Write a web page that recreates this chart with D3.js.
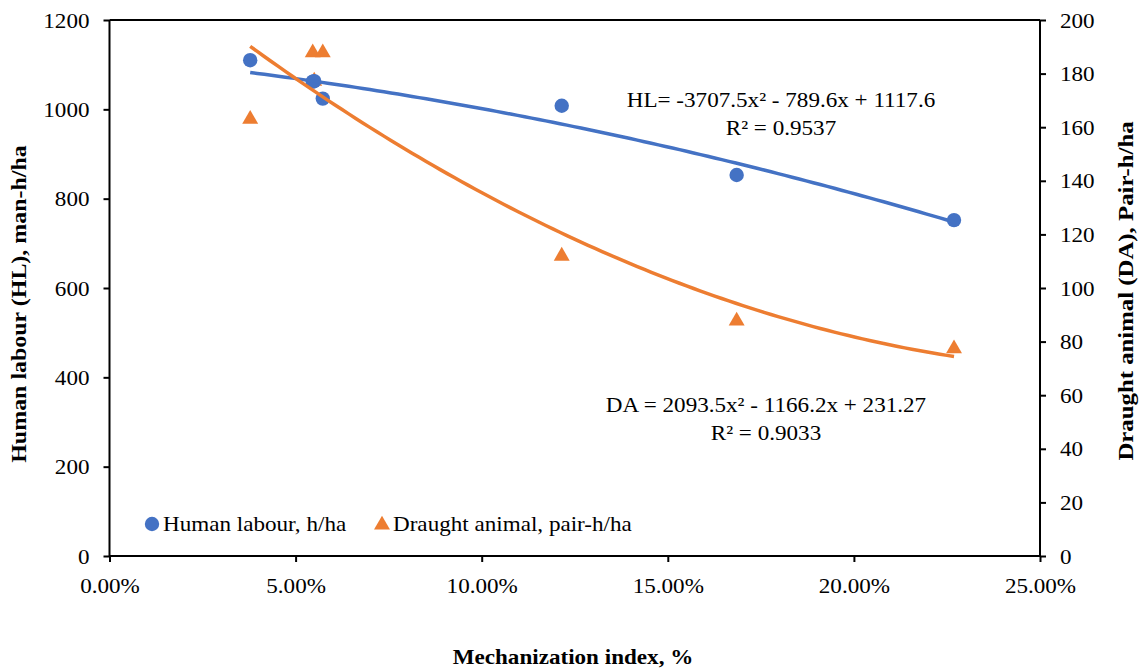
<!DOCTYPE html>
<html>
<head>
<meta charset="utf-8">
<script src="https://cdn.jsdelivr.net/npm/d3@7"></script>
<style>
  html, body { margin: 0; padding: 0; background: #fff; }
  svg { display: block; font-family: "Liberation Serif", "Times New Roman", serif; }
</style>
</head>
<body>
<svg id="chart" width="1143" height="668"></svg>
<script>
// Mechanization index (fraction) for each surveyed group
const mechIndex = [0.0378, 0.0546, 0.0550, 0.0573, 0.1215, 0.1685, 0.2269];
// Human labour, man-h/ha
const humanLabour = [1110, 1062, 1063, 1024, 1008, 853, 752];
// Draught animal, pair-h/ha
const draughtAnimal = [163.4, 188.2, 177.6, 188.2, 112.3, 88.1, 77.7];

// Tick values
const xTicks = [0, 0.05, 0.10, 0.15, 0.20, 0.25];
const yLeftTicks = [0, 200, 400, 600, 800, 1000, 1200];
const yRightTicks = [0, 20, 40, 60, 80, 100, 120, 140, 160, 180, 200];

// Polynomial trend coefficients (a x^2 + b x + c)
const hlFit = [-3707.5, -789.6, 1117.6];
const daFit = [2093.5, -1166.2, 231.27];

const hlLabel = ["HL= -3707.5x\u00B2 - 789.6x + 1117.6", "R\u00B2 = 0.9537"];
const daLabel = ["DA = 2093.5x\u00B2 - 1166.2x + 231.27", "R\u00B2 = 0.9033"];

const BLUE = "#4472C4", ORANGE = "#ED7D31";

const svg = d3.select("#chart");
const plotL = 109.5, plotR = 1040, plotT = 20, plotB = 556;

const x = d3.scaleLinear().domain([0, 0.25]).range([plotL, plotR]);
const yL = d3.scaleLinear().domain([0, 1200]).range([plotB, plotT]);
const yR = d3.scaleLinear().domain([0, 200]).range([plotB, plotT]);

const fontSize = 21;
const WIDEN = 1.1;   // the serif face is set slightly wide

// Widen each text element horizontally along its baseline
function widen(sel, k = WIDEN) {
  sel.each(function() {
    const len = this.getComputedTextLength();
    d3.select(this).attr("textLength", len * k).attr("lengthAdjust", "spacingAndGlyphs");
  });
}

// Axes
const gx = svg.append("g").attr("transform", `translate(0,${plotB})`)
  .call(d3.axisBottom(x).tickValues(xTicks).tickSize(6).tickFormat(d3.format(".2%")));

const gyl = svg.append("g").attr("transform", `translate(${plotL},0)`)
  .call(d3.axisLeft(yL).tickValues(yLeftTicks).tickSize(6).tickFormat(d3.format("d")));

const gyr = svg.append("g").attr("transform", `translate(${plotR},0)`)
  .call(d3.axisRight(yR).tickValues(yRightTicks).tickSize(6).tickFormat(d3.format("d")));

// Secondary horizontal axis along the top (no labels)
svg.append("line").attr("x1", plotL).attr("x2", plotR).attr("y1", plotT).attr("y2", plotT)
  .attr("stroke", "#000").attr("stroke-width", 2);

[gx, gyl, gyr].forEach(g => {
  g.selectAll(".domain").attr("stroke", "#000").attr("stroke-width", 2);
  g.selectAll(".tick line").attr("stroke", "#000").attr("stroke-width", 2);
  g.selectAll(".tick text").attr("fill", "#000")
    .style("font-size", fontSize + "px")
    .style("font-family", '"Liberation Serif", "Times New Roman", serif');
});
// Plain domain lines without outer ticks
gx.select(".domain").attr("d", `M${plotL},0H${plotR}`);
gyl.select(".domain").attr("d", `M0,${plotT}V${plotB}`);
gyr.select(".domain").attr("d", `M0,${plotT}V${plotB}`);

gx.selectAll(".tick text").attr("dy", null).attr("y", 37);
gyl.selectAll(".tick text").attr("x", -20).attr("dy", "0.34em");
gyr.selectAll(".tick text").attr("x", 20).attr("dy", "0.34em");
[gx, gyl, gyr].forEach(g => widen(g.selectAll(".tick text")));

// Axis titles
const titleL = svg.append("text")
  .attr("transform", `translate(26,304) rotate(-90)`)
  .attr("text-anchor", "middle")
  .style("font-size", "21px").style("font-weight", "bold")
  .text("Human labour (HL), man-h/ha");

const titleR = svg.append("text")
  .attr("transform", `translate(1133,291) rotate(-90)`)
  .attr("text-anchor", "middle")
  .style("font-size", "21px").style("font-weight", "bold")
  .text("Draught animal (DA), Pair-h/ha");

const titleX = svg.append("text")
  .attr("x", 573).attr("y", 664)
  .attr("text-anchor", "middle")
  .style("font-size", "21px").style("font-weight", "bold")
  .text("Mechanization index, %");

widen(titleL, 1.14);
widen(titleR, 1.18);
widen(titleX, 1.1);

// Markers: draught animal beneath, human labour on top
const tri = d3.symbol().type(d3.symbolTriangle).size(110);
svg.append("g").selectAll("path")
  .data(mechIndex.map((m, i) => ({ m, v: draughtAnimal[i] })))
  .join("path")
  .attr("d", tri)
  .attr("transform", d => `translate(${x(d.m)},${yR(d.v) + 1})`)
  .attr("fill", ORANGE);

svg.append("g").selectAll("circle")
  .data(mechIndex.map((m, i) => ({ m, v: humanLabour[i] })))
  .join("circle")
  .attr("cx", d => x(d.m))
  .attr("cy", d => yL(d.v))
  .attr("r", 7.2)
  .attr("fill", BLUE);

// Polynomial trend lines over the observed range
const poly = c => t => c[0] * t * t + c[1] * t + c[2];
const xMin = d3.min(mechIndex), xMax = d3.max(mechIndex);
const xs = d3.range(0, 101).map(i => xMin + (xMax - xMin) * i / 100);

svg.append("path")
  .datum(xs)
  .attr("d", d3.line().x(t => x(t)).y(t => yL(poly(hlFit)(t))))
  .attr("fill", "none").attr("stroke", BLUE).attr("stroke-width", 3.5);

svg.append("path")
  .datum(xs)
  .attr("d", d3.line().x(t => x(t)).y(t => yR(poly(daFit)(t))))
  .attr("fill", "none").attr("stroke", ORANGE).attr("stroke-width", 3.5);

// Trend equations
function eqLabel(lines, cx, y0) {
  lines.forEach((s, i) => {
    const t = svg.append("text")
      .attr("x", cx).attr("y", y0 + i * 28)
      .attr("text-anchor", "middle")
      .style("font-size", fontSize + "px")
      .text(s);
    widen(t);
  });
}
eqLabel(hlLabel, 781, 107);
eqLabel(daLabel, 766, 412);

// Legend
const lg = svg.append("g").style("font-size", fontSize + "px");
lg.append("circle").attr("cx", 152).attr("cy", 524).attr("r", 7.2).attr("fill", BLUE);
widen(lg.append("text").attr("x", 163).attr("y", 531).text("Human labour, h/ha"));
lg.append("path").attr("d", tri).attr("transform", "translate(382,525)").attr("fill", ORANGE);
widen(lg.append("text").attr("x", 393).attr("y", 531).text("Draught animal, pair-h/ha"));
</script>
</body>
</html>
